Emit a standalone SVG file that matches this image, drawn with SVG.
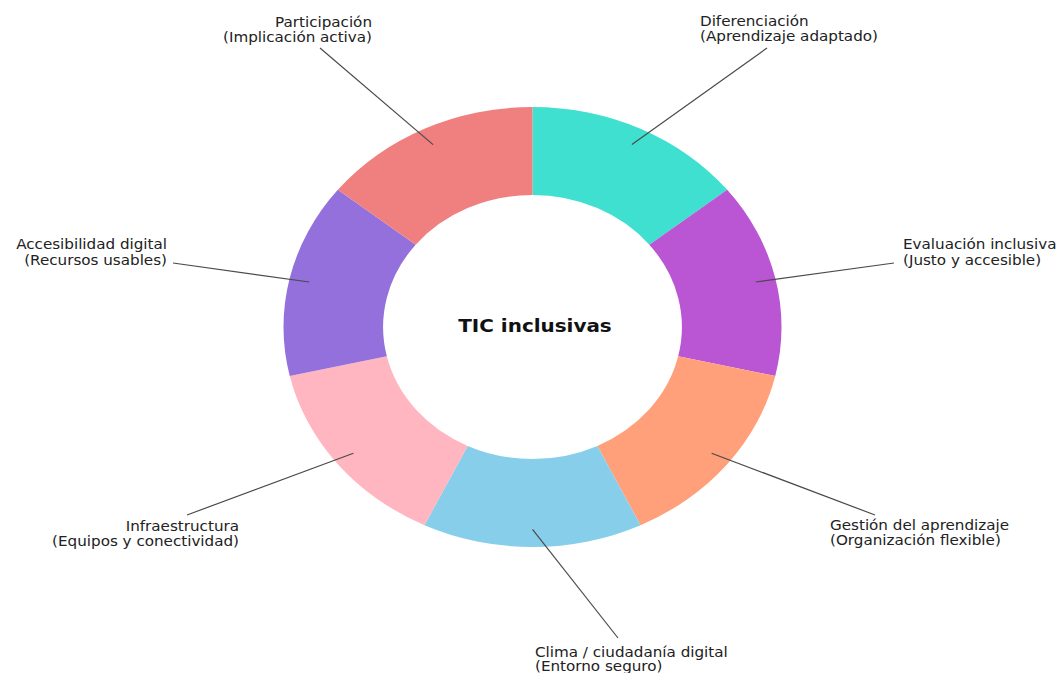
<svg xmlns="http://www.w3.org/2000/svg" width="1063" height="673" viewBox="0 0 1063 673">
<style>
.lbl{font-family:"DejaVu Sans","Liberation Sans",sans-serif;font-size:13.3px;fill:#222}
.ttl{font-family:"DejaVu Sans","Liberation Sans",sans-serif;font-size:17.5px;font-weight:bold;fill:#111}
.ld{stroke:#4a4a4a;stroke-width:1.2;fill:none}
</style>
<rect width="1063" height="673" fill="#ffffff"/>
<g id="ring">
<g id="n-diferenciacion"><path fill="#40E0D0" d="M532.5,107 A249,220 0 0 1 727.18,189.83 L649.31,244.70 A149.4,132 0 0 0 532.5,195 Z"/></g>
<g id="n-evaluacion"><path fill="#BA55D3" d="M727.18,189.83 A249,220 0 0 1 775.26,375.95 L678.16,356.37 A149.4,132 0 0 0 649.31,244.70 Z"/></g>
<g id="n-gestion"><path fill="#FFA07A" d="M775.26,375.95 A249,220 0 0 1 640.54,525.21 L597.32,445.93 A149.4,132 0 0 0 678.16,356.37 Z"/></g>
<g id="n-clima"><path fill="#87CEEB" d="M640.54,525.21 A249,220 0 0 1 424.46,525.21 L467.68,445.93 A149.4,132 0 0 0 597.32,445.93 Z"/></g>
<g id="n-infraestructura"><path fill="#FFB6C1" d="M424.46,525.21 A249,220 0 0 1 289.74,375.95 L386.84,356.37 A149.4,132 0 0 0 467.68,445.93 Z"/></g>
<g id="n-accesibilidad"><path fill="#9370DB" d="M289.74,375.95 A249,220 0 0 1 337.82,189.83 L415.69,244.70 A149.4,132 0 0 0 386.84,356.37 Z"/></g>
<g id="n-participacion"><path fill="#F08080" d="M337.82,189.83 A249,220 0 0 1 532.5,107 L532.5,195 A149.4,132 0 0 0 415.69,244.70 Z"/></g>
</g>
<g id="connectors">
<line class="ld" x1="433.1" y1="144.6" x2="320" y2="48"/>
<line class="ld" x1="631.9" y1="144.6" x2="767" y2="48"/>
<line class="ld" x1="755.8" y1="282" x2="894" y2="263"/>
<line class="ld" x1="711.6" y1="453.2" x2="875" y2="515"/>
<line class="ld" x1="532.5" y1="529.4" x2="618" y2="638"/>
<line class="ld" x1="353.4" y1="453.2" x2="187" y2="515"/>
<line class="ld" x1="309.2" y1="282" x2="173" y2="263"/>
</g>
<g id="center">
<text class="ttl" text-anchor="middle" transform="translate(535,332) scale(1.14,1)" x="0" y="0">TIC inclusivas</text>
</g>
<g id="label-participacion">
<text class="lbl" text-anchor="end" transform="translate(372,0) scale(1.14,1)"><tspan x="0" y="27">Participación</tspan><tspan x="0" y="42">(Implicación activa)</tspan></text>
</g>
<g id="label-diferenciacion">
<text class="lbl" transform="translate(700,0) scale(1.14,1)"><tspan x="0" y="26">Diferenciación</tspan><tspan x="0" y="41">(Aprendizaje adaptado)</tspan></text>
</g>
<g id="label-evaluacion">
<text class="lbl" transform="translate(903,0) scale(1.14,1)"><tspan x="0" y="249">Evaluación inclusiva</tspan><tspan x="0" y="265">(Justo y accesible)</tspan></text>
</g>
<g id="label-gestion">
<text class="lbl" transform="translate(830,0) scale(1.14,1)"><tspan x="0" y="530">Gestión del aprendizaje</tspan><tspan x="0" y="545">(Organización flexible)</tspan></text>
</g>
<g id="label-clima">
<text class="lbl" transform="translate(535,0) scale(1.14,1)"><tspan x="0" y="657">Clima / ciudadanía digital</tspan><tspan x="0" y="671">(Entorno seguro)</tspan></text>
</g>
<g id="label-infraestructura">
<text class="lbl" text-anchor="end" transform="translate(239,0) scale(1.14,1)"><tspan x="0" y="531">Infraestructura</tspan><tspan x="0" y="546">(Equipos y conectividad)</tspan></text>
</g>
<g id="label-accesibilidad">
<text class="lbl" text-anchor="end" transform="translate(167,0) scale(1.14,1)"><tspan x="0" y="249">Accesibilidad digital</tspan><tspan x="0" y="265">(Recursos usables)</tspan></text>
</g>
</svg>
